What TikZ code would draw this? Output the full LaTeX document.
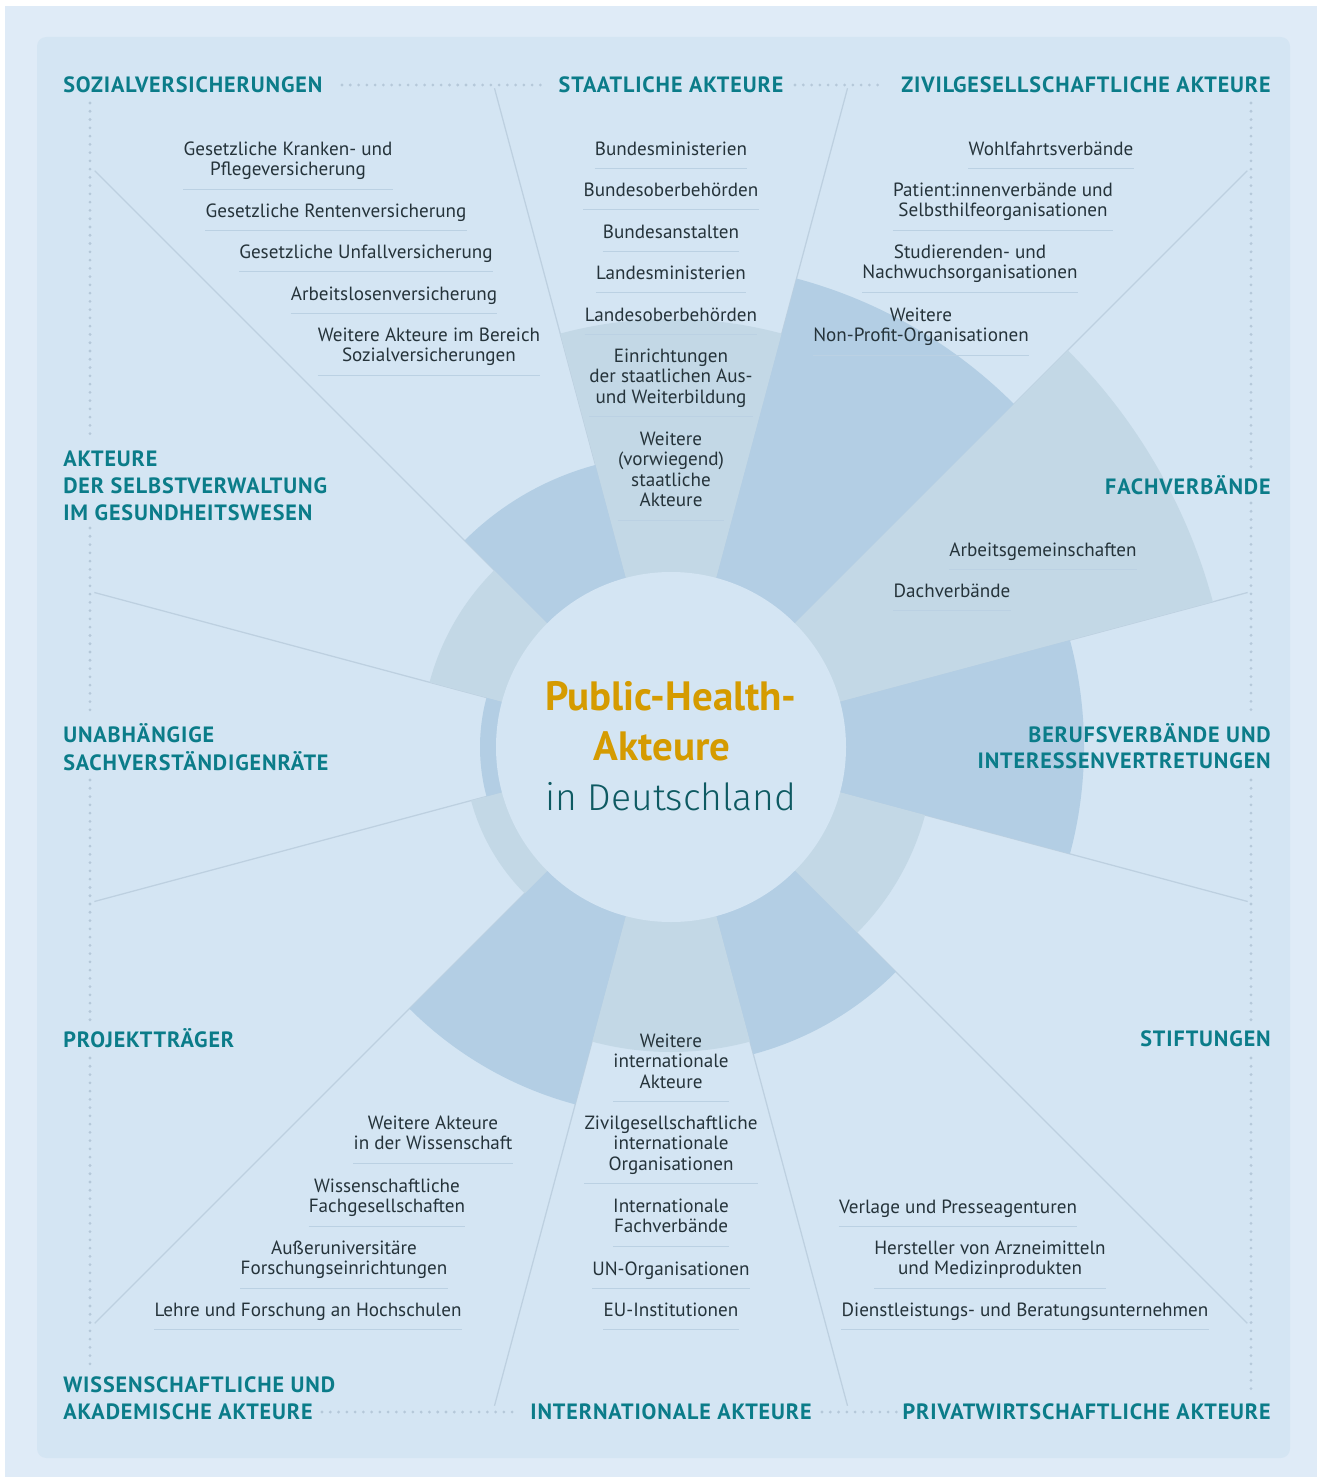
\documentclass[tikz,border=0pt]{standalone}
\usepackage{fontspec}
\setmainfont{PT Sans}
\newfontfamily\headfam{PT Sans}[LetterSpace=4]
\newfontfamily\lightfam{Fira Sans Light}
\definecolor{outerbg}{HTML}{DFEBF7}
\definecolor{innerbg}{HTML}{D4E5F3}
\definecolor{wblue}{HTML}{B3CEE4}
\definecolor{wgrey}{HTML}{C3D8E6}
\definecolor{divc}{HTML}{BDD0E0}
\definecolor{dotc}{HTML}{B5C8D9}
\definecolor{headc}{HTML}{0B7C89}
\definecolor{itemc}{HTML}{25333A}
\definecolor{titlec}{HTML}{D59B00}
\definecolor{deutc}{HTML}{0E5A62}
\definecolor{ulc}{HTML}{BBD1E3}
\newcommand\itemfont{\fontsize{14.35}{15.4}\selectfont}
\newcommand\headfont{\headfam\bfseries\fontsize{16.6}{19.9}\selectfont}
\tikzset{
  item/.style={font=\itemfont, text=itemc, align=center, inner sep=0pt},
  head/.style={font=\headfont, text=headc, inner sep=0pt},
  ul/.style={draw=ulc, line width=0.75pt},
  divider/.style={draw=divc, line width=0.95pt},
  dots/.style={draw=dotc, line width=2.3pt, line cap=round, dash pattern=on 0pt off 6.2pt},
  title/.style={font=\bfseries\fontsize{30.7}{36}\selectfont, text=titlec, inner sep=0pt},
  deut/.style={font=\lightfam\fontsize{28}{36}\selectfont, text=deutc, inner sep=0pt},
}
% item: name, cx, y-centre of first line, text
\newcommand\itm[4]{%
  \node[item, anchor=north] (#1) at ({#2},{#3-7.4}) {\strut #4\strut};
  \draw[ul] ([yshift=-5.4pt]#1.south west) -- ([yshift=-5.4pt]#1.south east);
}
% heading: name, anchor, align, x, y-centre of first line, text
\newcommand\hd[6]{%
  \node[head, anchor=#2, align=#3] (#1) at ({#4},{#5-10.9}) {\strut #6};
}
\begin{document}
\begin{tikzpicture}[x=0.75pt, y=-0.75pt]
\useasboundingbox (0,0) rectangle (1322,1483);
\fill[white] (0,0) rectangle (1322,1483);
\fill[outerbg] (5,6) rectangle (1317,1477);
\fill[innerbg, rounded corners=7pt] (37,37) rectangle (1290,1458);
\coordinate (c) at (671,747);
% radial dividers
\foreach \a/\L in {-105/682,-75/682,-135/815,-45/815,-165/597,-15/597,15/597,165/597,45/815,135/815,75/682,105/682}
  \draw[divider] (c) -- ++(\a:\L);
% wedges
\foreach \a/\b/\r/\col in {-105/-75/428/wgrey, -75/-45/485/wblue, -45/-15/561/wgrey, -15/15/413/wblue,
  15/45/263/wgrey, 45/75/318/wblue, 75/105/305/wgrey, 105/135/370/wblue,
  135/165/207/wgrey, 165/195/191/wblue, 195/225/250/wgrey, 225/255/292/wblue}
  \fill[\col] (c) -- ++(\a:\r) arc[start angle=\a, end angle=\b, radius=\r] -- cycle;
\fill[innerbg] (c) circle[radius=175];
% dotted frame lines
\draw[dots] (342,85) -- (548,85);
\draw[dots] (795,85) -- (885,85);
\draw[dots] (322,1412) -- (515,1412);
\draw[dots] (822,1412) -- (897,1412);
\draw[dots] (90,103) -- (90,440);
\draw[dots] (90,528) -- (90,715);
\draw[dots] (90,780) -- (90,1020);
\draw[dots] (90,1058) -- (90,1366);
\draw[dots] (1251,103) -- (1251,468);
\draw[dots] (1251,503) -- (1251,715);
\draw[dots] (1251,780) -- (1251,1020);
\draw[dots] (1251,1058) -- (1251,1391);
% headings
\hd{hsoz}{north west}{left}{63}{85}{SOZIALVERSICHERUNGEN}
\hd{hsta}{north}{center}{671}{85}{STAATLICHE AKTEURE}
\hd{hziv}{north east}{right}{1271}{85}{ZIVILGESELLSCHAFTLICHE AKTEURE}
\hd{hsel}{north west}{left}{63}{459}{AKTEURE\\DER SELBSTVERWALTUNG\\IM GESUNDHEITSWESEN}
\hd{hfac}{north east}{right}{1271}{486}{FACHVERBÄNDE}
\hd{hunA}{north west}{left}{63}{734}{UNABHÄNGIGE\\SACHVERSTÄNDIGENRÄTE}
\hd{hber}{north east}{right}{1271}{734}{BERUFSVERBÄNDE UND\\INTERESSENVERTRETUNGEN}
\hd{hpro}{north west}{left}{63}{1039}{PROJEKTTRÄGER}
\hd{hsti}{north east}{right}{1271}{1039}{STIFTUNGEN}
\hd{hwis}{north west}{left}{63}{1385}{WISSENSCHAFTLICHE UND\\AKADEMISCHE AKTEURE}
\hd{hint}{north}{center}{671}{1412}{INTERNATIONALE AKTEURE}
\hd{hpri}{north east}{right}{1271}{1412}{PRIVATWIRTSCHAFTLICHE AKTEURE}
% Sozialversicherungen
\itm{s1}{288}{148}{Gesetzliche Kranken- und\\Pflegeversicherung}
\itm{s2}{336}{210}{Gesetzliche Rentenversicherung}
\itm{s3}{366}{251}{Gesetzliche Unfallversicherung}
\itm{s4}{394}{293}{Arbeitslosenversicherung}
\itm{s5}{429}{334}{Weitere Akteure im Bereich\\Sozialversicherungen}
% Staatliche
\itm{a1}{671}{148}{Bundesministerien}
\itm{a2}{671}{189}{Bundesoberbehörden}
\itm{a3}{671}{231}{Bundesanstalten}
\itm{a4}{671}{272}{Landesministerien}
\itm{a5}{671}{314}{Landesoberbehörden}
\itm{a6}{671}{355}{Einrichtungen\\der staatlichen Aus-\\und Weiterbildung}
\itm{a7}{671}{438}{Weitere\\(vorwiegend)\\staatliche\\Akteure}
% Zivilgesellschaftliche
\itm{z1}{1051}{148}{Wohlfahrtsverbände}
\itm{z2}{1003}{189}{Patient:innenverbände und\\Selbsthilfeorganisationen}
\itm{z3}{970}{251}{Studierenden- und\\Nachwuchsorganisationen}
\itm{z4}{921}{314}{Weitere\\Non-Profit-Organisationen}
% Fachverbaende
\itm{f1}{1043}{549}{Arbeitsgemeinschaften}
\itm{f2}{952}{590}{Dachverbände}
% Internationale
\itm{i1}{671}{1040}{Weitere\\internationale\\Akteure}
\itm{i2}{671}{1122}{Zivilgesellschaftliche\\internationale\\Organisationen}
\itm{i3}{671}{1205}{Internationale\\Fachverbände}
\itm{i4}{671}{1268}{UN-Organisationen}
\itm{i5}{671}{1309}{EU-Institutionen}
% Wissenschaftliche
\itm{w1}{433}{1122}{Weitere Akteure\\in der Wissenschaft}
\itm{w2}{387}{1185}{Wissenschaftliche\\Fachgesellschaften}
\itm{w3}{344}{1247}{Außeruniversitäre\\Forschungseinrichtungen}
\itm{w4}{308}{1309}{Lehre und Forschung an Hochschulen}
% Privatwirtschaftliche
\itm{p1}{958}{1206}{Verlage und Presseagenturen}
\itm{p2}{990}{1247}{Hersteller von Arzneimitteln\\und Medizinprodukten}
\itm{p3}{1025}{1309}{Dienstleistungs- und Beratungsunternehmen}
% centre title
\node[title, anchor=base] (t1) at (671,710) {Public-Health-};
\node[title, anchor=base] (t2) at (662,760) {Akteure};
\node[deut, anchor=base] (t3) at (671,810) {in Deutschland};
\end{tikzpicture}
\end{document}
